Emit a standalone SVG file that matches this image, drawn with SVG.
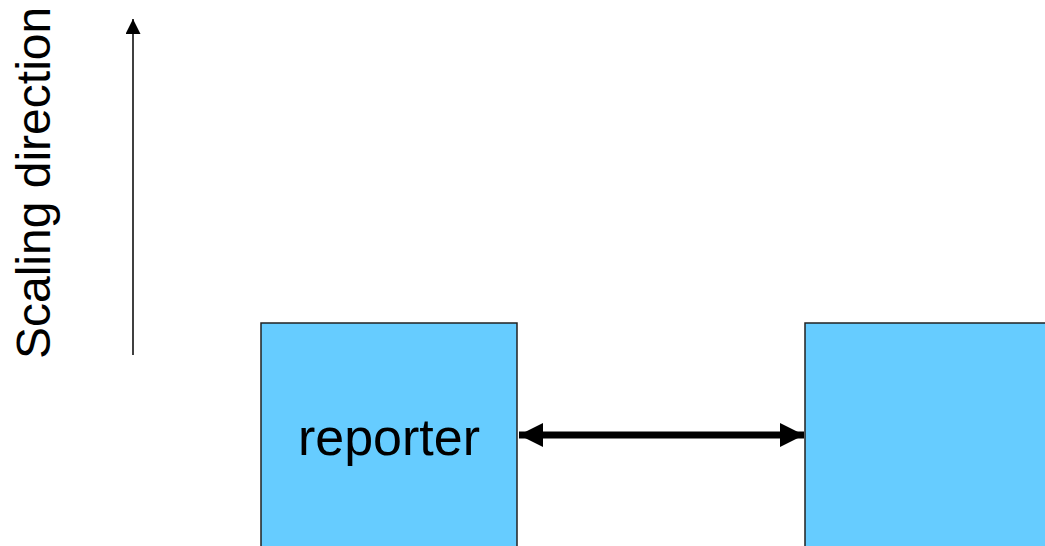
<svg xmlns="http://www.w3.org/2000/svg" width="1045" height="546" viewBox="0 0 1045 546">
  <style>
    .box { fill: #66CCFF; stroke: #222; stroke-width: 1.5; }
    .label { font-family: "Liberation Sans", Arial, sans-serif; fill: #000; }
  </style>
  <defs>
    <marker id="head-small" viewBox="0 0 10 10" refX="10" refY="5" markerWidth="15" markerHeight="15" markerUnits="userSpaceOnUse" orient="auto">
      <path d="M0,0 L10,5 L0,10 Z" fill="#000"/>
    </marker>
    <marker id="head-big" viewBox="0 0 24 24" refX="24" refY="12" markerWidth="24" markerHeight="24" markerUnits="userSpaceOnUse" orient="auto-start-reverse">
      <path d="M0,0 L24,12 L0,24 Z" fill="#000"/>
    </marker>
  </defs>
  <rect width="1045" height="546" fill="#fff"/>

  <!-- axis caption -->
  <g id="axis">
    <text class="label" font-size="48" transform="translate(50,359) rotate(-90)">Scaling direction</text>
    <line x1="133" y1="355" x2="133" y2="19" stroke="#000" stroke-width="1.5" marker-end="url(#head-small)"/>
  </g>

  <g id="reporter">
    <rect class="box" x="261" y="323" width="256" height="240"/>
    <text class="label" font-size="52" x="389" y="455" text-anchor="middle">reporter</text>
  </g>

  <g id="peer">
    <rect class="box" x="805" y="323" width="260" height="240"/>
  </g>

  <g id="connectors">
    <line x1="519" y1="435" x2="804" y2="435" stroke="#000" stroke-width="7" marker-start="url(#head-big)" marker-end="url(#head-big)"/>
  </g>
</svg>
